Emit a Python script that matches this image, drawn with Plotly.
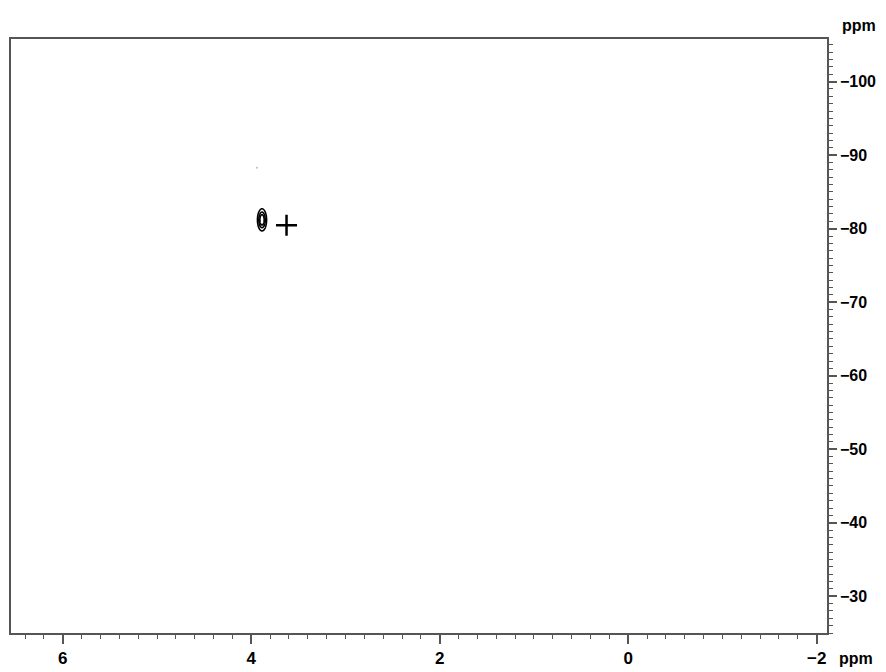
import numpy as np
import plotly.graph_objects as go

# Peak parameters
peak_x = 3.886        # 1H shift, ppm
peak_y = -81.2        # X-nucleus shift, ppm
peak_wx = 0.027       # width (sigma) along x, ppm
peak_wy = 0.84        # width (sigma) along y, ppm
contour_levels = [0.2, 0.45, 0.7]

# Cross marker (peak position annotation)
cross_x = [3.626]
cross_y = [-80.45]

# faint noise speck
speck_x = [3.94]
speck_y = [-88.3]

# axes
x_range = [6.55, -2.11]
y_range = [-25.0, -105.8]
x_ticks = [6, 4, 2, 0, -2]
y_ticks = [-100, -90, -80, -70, -60, -50, -40, -30]

gx = np.arange(3.70, 4.07, 0.003)
gy = np.arange(-86.0, -77.0, 0.04)
GX, GY = np.meshgrid(gx, gy)
Z = np.exp(-0.5 * (((GX - peak_x) / peak_wx) ** 2 + ((GY - peak_y) / peak_wy) ** 2))

fig = go.Figure()
fig.add_trace(go.Contour(
    x=gx, y=gy, z=Z,
    contours=dict(coloring="lines", start=contour_levels[0], end=contour_levels[-1],
                  size=contour_levels[1] - contour_levels[0], showlabels=False),
    colorscale=[[0, "black"], [1, "black"]],
    line=dict(width=1.6), showscale=False, hoverinfo="skip",
))
fig.add_trace(go.Scatter(
    x=cross_x, y=cross_y, mode="markers",
    marker=dict(symbol="cross-thin", size=15, line=dict(color="black", width=2.5)),
    showlegend=False,
))
fig.add_trace(go.Scatter(
    x=speck_x, y=speck_y, mode="markers",
    marker=dict(symbol="circle", size=2, color="#bbbbbb"),
    showlegend=False,
))

# page body has an 8px margin; compensate so the plot area lands where the reference has it
W, H = 878, 664
L, T, R, B = 3, 31, 59, 39
pw = W - L - R
ph = H - T - B

axis_color = "#555555"
FONT = "Liberation Sans, Arial, sans-serif"
xtickfont = dict(family=FONT, size=17, color="black", weight="bold")
ytickfont = dict(family=FONT, size=16, color="black", weight="bold")


def neg(v):
    return str(v) if v >= 0 else "\u2212" + str(-v)


def px_to_paper(fx, fy):
    return (fx - L) / pw, (H - B - fy) / ph


ax1, ay1 = px_to_paper(851, 17)
ax2, ay2 = px_to_paper(848, 650)

fig.update_layout(
    width=W, height=H,
    margin=dict(l=L, r=R, t=T, b=B, autoexpand=False),
    paper_bgcolor="white", plot_bgcolor="white",
    showlegend=False,
    font=dict(family=FONT, size=17, color="black"),
    xaxis=dict(
        range=x_range, tickvals=x_ticks, ticktext=[neg(v) for v in x_ticks],
        showgrid=False, zeroline=False,
        showline=True, linecolor=axis_color, linewidth=1.5, mirror=True,
        ticks="outside", ticklen=9, tickwidth=1.5, tickcolor=axis_color,
        minor=dict(dtick=0.2, tick0=0, ticks="outside", ticklen=4, tickwidth=1, tickcolor=axis_color),
        tickfont=xtickfont, ticklabelstandoff=0,
    ),
    yaxis=dict(
        range=y_range, tickvals=y_ticks, ticktext=[neg(v) for v in y_ticks],
        side="right",
        showgrid=False, zeroline=False,
        showline=True, linecolor=axis_color, linewidth=1.5, mirror=True,
        ticks="outside", ticklen=8, tickwidth=1.5, tickcolor=axis_color,
        minor=dict(dtick=1, tick0=0, ticks="outside", ticklen=4, tickwidth=1, tickcolor=axis_color),
        tickfont=ytickfont, ticklabelstandoff=0,
    ),
    annotations=[
        dict(text="ppm", x=ax1, y=ay1, xref="paper", yref="paper", showarrow=False,
             xanchor="center", yanchor="middle",
             font=dict(family=FONT, size=16, weight="bold")),
        dict(text="ppm", x=ax2, y=ay2, xref="paper", yref="paper", showarrow=False,
             xanchor="center", yanchor="middle",
             font=dict(family=FONT, size=16, weight="bold")),
    ],
)

fig.write_html("out.html")
